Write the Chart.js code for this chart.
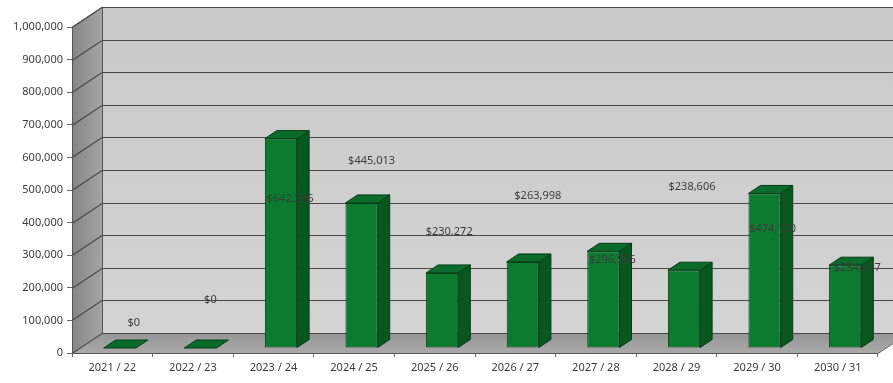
<!DOCTYPE html>
<html>
<head>
<meta charset="utf-8">
<script src="https://cdn.jsdelivr.net/npm/chart.js@4/dist/chart.umd.min.js"></script>
<style>
  html, body { margin: 0; padding: 0; background: #ffffff; }
  #wrap { width: 893px; height: 383px; }
</style>
</head>
<body>
<div id="wrap"><canvas id="chart" width="893" height="383"></canvas></div>
<script>
// Fiscal years on the category axis
const categories = ['2021 / 22', '2022 / 23', '2023 / 24', '2024 / 25', '2025 / 26',
                    '2026 / 27', '2027 / 28', '2028 / 29', '2029 / 30', '2030 / 31'];
// Annual amounts (dollars)
const amounts = [0, 0, 642306, 445013, 230272, 263998, 296556, 238606, 474120, 254057];
// Value axis range and step
const axisMin = 0;
const axisMax = 1000000;
const axisStep = 100000;

// Oblique depth of the 3-D box (walls, floor) and where the columns sit in it
const BOX_DX = 30, BOX_DY = -20;
const COL_DX = 7.5, COL_DY = -5;
const COL_DEPTH_X = 12, COL_DEPTH_Y = -8;
// Hand-placed value label nudges, relative to the column's front-top centre
const labelNudgeX = [14, 10, 9, 10, 7, 15, 9, 8, 8, 12];
const labelNudgeY = [-25, -48, 60, -42, -41, -66, 9, -83, 35, 3];

const FONT = '"Noto Sans", "DejaVu Sans", sans-serif';
const TEXT = '#3c3c3c';

const money = v => '$' + Math.round(v).toLocaleString('en-US');

const box3d = {
  id: 'box3d',
  beforeDraw(chart) {
    const { ctx, chartArea: a, scales: { y } } = chart;
    const L = a.left, R = a.right, T = a.top, B = a.bottom;
    ctx.save();
    ctx.fillStyle = '#ffffff';
    ctx.fillRect(0, 0, chart.width, chart.height);

    // back wall
    const bw = ctx.createLinearGradient(0, T + BOX_DY, 0, B + BOX_DY);
    bw.addColorStop(0, '#c9c9c9');
    bw.addColorStop(1, '#d3d3d3');
    ctx.fillStyle = bw;
    ctx.fillRect(L + BOX_DX, T + BOX_DY, R - L + 40, B - T);

    // left side wall
    const lw = ctx.createLinearGradient(L, 0, L + BOX_DX, 0);
    lw.addColorStop(0, '#858585');
    lw.addColorStop(1, '#a4a4a4');
    ctx.fillStyle = lw;
    ctx.beginPath();
    ctx.moveTo(L, T); ctx.lineTo(L + BOX_DX, T + BOX_DY);
    ctx.lineTo(L + BOX_DX, B + BOX_DY); ctx.lineTo(L, B);
    ctx.closePath(); ctx.fill();

    // floor
    const fl = ctx.createLinearGradient(0, B + BOX_DY, 0, B);
    fl.addColorStop(0, '#969696');
    fl.addColorStop(1, '#a9a9a9');
    ctx.fillStyle = fl;
    ctx.beginPath();
    ctx.moveTo(L, B); ctx.lineTo(R, B);
    ctx.lineTo(R + BOX_DX, B + BOX_DY); ctx.lineTo(L + BOX_DX, B + BOX_DY);
    ctx.closePath(); ctx.fill();

    // grid lines on the back wall and the side wall
    ctx.strokeStyle = '#474747';
    ctx.lineWidth = 1.2;
    for (let v = axisMin; v <= axisMax; v += axisStep) {
      const yf = Math.round(y.getPixelForValue(v)) + 0.5;
      ctx.beginPath();
      ctx.moveTo(L, yf);
      ctx.lineTo(L + BOX_DX, yf + BOX_DY);
      ctx.lineTo(R + BOX_DX + 10, yf + BOX_DY);
      ctx.stroke();
    }

    // box edges
    ctx.strokeStyle = '#555555';
    ctx.lineWidth = 1;
    ctx.beginPath();
    ctx.moveTo(L + 0.5, B); ctx.lineTo(L + 0.5, T);
    ctx.lineTo(L + BOX_DX + 0.5, T + BOX_DY);
    ctx.moveTo(L + BOX_DX + 0.5, T + BOX_DY); ctx.lineTo(L + BOX_DX + 0.5, B + BOX_DY);
    ctx.moveTo(L, B + 0.5); ctx.lineTo(R, B + 0.5);
    ctx.lineTo(R + BOX_DX, B + BOX_DY + 0.5);
    ctx.stroke();
    ctx.restore();
  },
  beforeDatasetsDraw(chart) {
    chart.ctx.save();
    chart.ctx.translate(COL_DX, COL_DY);
  },
  afterDatasetsDraw(chart) {
    const { ctx } = chart;
    const meta = chart.getDatasetMeta(0);
    meta.data.forEach(bar => {
      const { x, y, base, width } = bar.getProps(['x', 'y', 'base', 'width'], true);
      const l = x - width / 2, r = x + width / 2;
      ctx.lineJoin = 'round';
      ctx.lineWidth = 1;
      ctx.strokeStyle = '#063d16';
      // right side face
      if (base - y > 0.5) {
        ctx.fillStyle = '#07571f';
        ctx.beginPath();
        ctx.moveTo(r, y); ctx.lineTo(r + COL_DEPTH_X, y + COL_DEPTH_Y);
        ctx.lineTo(r + COL_DEPTH_X, base + COL_DEPTH_Y); ctx.lineTo(r, base);
        ctx.closePath(); ctx.fill(); ctx.stroke();
      }
      // top face
      ctx.fillStyle = '#0a6b2a';
      ctx.beginPath();
      ctx.moveTo(l, y); ctx.lineTo(l + COL_DEPTH_X, y + COL_DEPTH_Y);
      ctx.lineTo(r + COL_DEPTH_X, y + COL_DEPTH_Y); ctx.lineTo(r, y);
      ctx.closePath(); ctx.fill(); ctx.stroke();
    });
    ctx.restore();

    // value labels
    ctx.save();
    ctx.font = '11px ' + FONT;
    ctx.fillStyle = TEXT;
    ctx.textAlign = 'center';
    ctx.textBaseline = 'middle';
    meta.data.forEach((bar, i) => {
      const { x, y } = bar.getProps(['x', 'y'], true);
      ctx.fillText(money(amounts[i]), x + COL_DX + labelNudgeX[i], y + COL_DY + labelNudgeY[i]);
    });
    ctx.restore();
  }
};

new Chart(document.getElementById('chart'), {
  type: 'bar',
  data: {
    labels: categories,
    datasets: [{
      data: amounts,
      backgroundColor: '#0b7b30',
      borderColor: '#063d16',
      borderWidth: 1,
      borderSkipped: false,
      barPercentage: 0.4,
      categoryPercentage: 1,
      clip: false
    }]
  },
  options: {
    responsive: false,
    animation: false,
    devicePixelRatio: 1,
    layout: { padding: { top: 27, right: 15, left: 0, bottom: 0 } },
    plugins: { legend: { display: false }, tooltip: { enabled: false } },
    scales: {
      x: {
        offset: true,
        border: { display: false },
        grid: { display: true, drawOnChartArea: false, drawTicks: true, tickLength: 4, color: '#666666', offset: true },
        ticks: { color: TEXT, font: { family: FONT, size: 11 }, padding: 4, maxRotation: 0, autoSkip: false },
        afterFit(scale) { scale.height = 30; }
      },
      y: {
        min: axisMin,
        max: axisMax,
        border: { display: false },
        grid: { display: true, drawOnChartArea: false, drawTicks: true, tickLength: 5, color: '#666666' },
        ticks: {
          stepSize: axisStep,
          color: TEXT,
          font: { family: FONT, size: 11 },
          padding: 4,
          callback: v => Number(v).toLocaleString('en-US')
        },
        afterFit(scale) { scale.width = 72; }
      }
    }
  },
  plugins: [box3d]
});
</script>
</body>
</html>
